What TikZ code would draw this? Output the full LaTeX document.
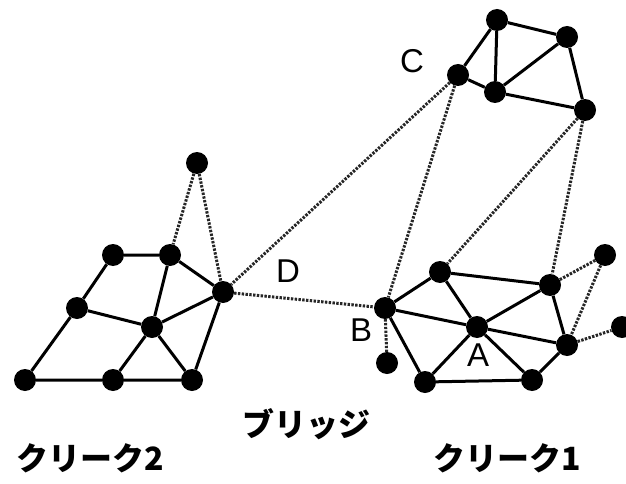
\documentclass[tikz,border=0pt]{standalone}
\usepackage{fontspec}
\setmainfont{Liberation Sans}
\newfontfamily\jpfont{Noto Sans CJK JP}
\begin{document}
\begin{tikzpicture}[x=1pt,y=-1pt,
  dot/.style={circle,fill=black,inner sep=0pt,minimum size=22pt},
  solidline/.style={line width=3pt,black},
  dotline/.style={line width=3pt,black!85,dash pattern=on 2.4pt off 1.4pt},
  letter/.style={font=\fontsize{33}{36}\selectfont},
  jp/.style={font=\jpfont\bfseries\fontsize{32}{36}\selectfont}]
\useasboundingbox (0,0) rectangle (626,484);
% left cluster
\node[dot] (Lt) at (197,163) {};
\node[dot] (L1) at (113,255) {};
\node[dot] (L2) at (170,255) {};
\node[dot] (D)  at (223,292) {};
\node[dot] (L3) at (77,308) {};
\node[dot] (L4) at (152,327) {};
\node[dot] (L5) at (25,380) {};
\node[dot] (L6) at (113,380) {};
\node[dot] (L7) at (192,380) {};
% right cluster
\node[dot] (B)  at (385,308) {};
\node[dot] (Bl) at (387,363) {};
\node[dot] (R1) at (440,272) {};
\node[dot] (A)  at (477,327) {};
\node[dot] (R3) at (550,285) {};
\node[dot] (R4) at (605,255) {};
\node[dot] (R5) at (567,345) {};
\node[dot] (R6) at (622,327) {};
\node[dot] (R7) at (425,382) {};
\node[dot] (R8) at (532,380) {};
% top cluster
\node[dot] (C)  at (458,75) {};
\node[dot] (T1) at (497,20) {};
\node[dot] (T2) at (567,37) {};
\node[dot] (T3) at (495,92) {};
\node[dot] (T4) at (585,110) {};
% solid edges
\begin{scope}[solidline]
\draw (L1)--(L2) (L1)--(L3) (L3)--(L5) (L5)--(L6) (L6)--(L7)
      (L3)--(L4) (L2)--(L4) (L2)--(D) (D)--(L4) (L4)--(L6) (L4)--(L7) (D)--(L7);
\draw (B)--(R1) (B)--(A) (B)--(R7) (R1)--(A) (R1)--(R3) (A)--(R3)
      (A)--(R5) (A)--(R7) (A)--(R8) (R7)--(R8) (R3)--(R5) (R5)--(R8);
\draw (C)--(T1) (T1)--(T3) (C)--(T3) (T1)--(T2) (T3)--(T2) (T3)--(T4) (T2)--(T4);
\end{scope}
% dotted edges
\begin{scope}[dotline]
\draw (Lt)--(L2) (Lt)--(D);
\draw (D)--(B) (C)--(D) (C)--(B);
\draw (T4)--(R1) (T4)--(R3);
\draw (B)--(Bl) (R3)--(R4) (R4)--(R5) (R5)--(R6);
\end{scope}
% letters
\node[letter] (lC) at (412,61) {C};
\node[letter] (lD) at (288,271) {D};
\node[letter] (lB) at (361,330) {B};
\node[letter] (lA) at (478,355) {A};
% Japanese labels
\node[jp] (br) at (306,424) {ブリッジ};
\node[jp] (k2) at (90,458) {クリーク2};
\node[jp] (k1) at (507,458) {クリーク1};
\end{tikzpicture}
\end{document}
